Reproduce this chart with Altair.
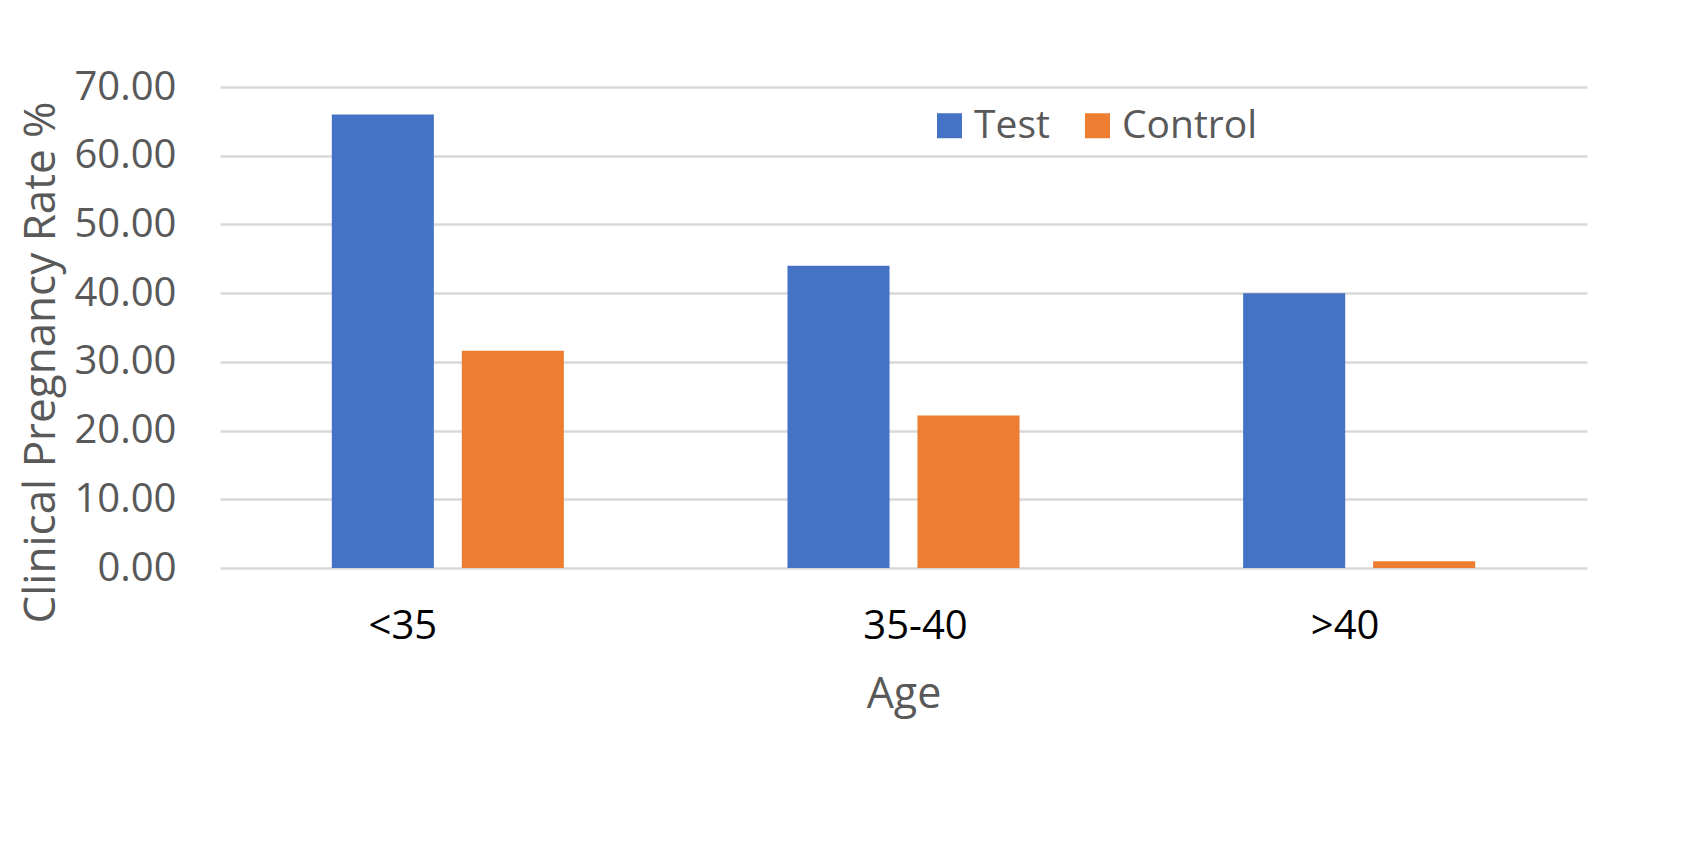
import altair as alt
import pandas as pd

ages = ["<35", "35-40", ">40"]
groups = ["Test", "Control"]
test_rate = [66.0, 44.0, 40.0]
control_rate = [31.6, 22.2, 1.0]
y_ticks = [0, 10, 20, 30, 40, 50, 60, 70]
colors = ["#4472C4", "#ED7D31"]

rows = []
for a, t, c in zip(ages, test_rate, control_rate):
    rows.append({"age": a, "group": "Test", "rate": t})
    rows.append({"age": a, "group": "Control", "rate": c})
df = pd.DataFrame(rows)

FONT = "Open Sans"
GREY = "#595959"

chart = alt.Chart(df).mark_bar().encode(
    x=alt.X(
        "age:N",
        sort=ages,
        scale=alt.Scale(paddingInner=0, paddingOuter=0),
        axis=alt.Axis(
            title="Age",
            labelAngle=0,
            ticks=False,
            domain=False,
            labelColor="black",
            labelFont=FONT,
            labelFontSize=40,
            labelBaseline="alphabetic",
            labelPadding=70,
            labelOffset={
                "condition": [
                    {"test": "datum.value === '<35'", "value": -45},
                    {"test": "datum.value === '35-40'", "value": 12},
                ],
                "value": -14,
            },
            titleFont=FONT,
            titleFontSize=43,
            titleFontWeight="normal",
            titleColor=GREY,
            titleBaseline="alphabetic",
            titleY=139,
        ),
    ),
    xOffset=alt.XOffset(
        "group:N",
        sort=groups,
        scale=alt.Scale(paddingInner=0.215, paddingOuter=0.86),
    ),
    y=alt.Y(
        "rate:Q",
        scale=alt.Scale(domain=[0, 70], nice=False),
        axis=alt.Axis(
            title="Clinical Pregnancy Rate %",
            values=y_ticks,
            format=".2f",
            ticks=False,
            domain=False,
            gridColor="#D9D9D9",
            gridWidth=2.5,
            labelColor=GREY,
            labelFont=FONT,
            labelFontSize=40,
            labelPadding=44,
            titleFont=FONT,
            titleFontSize=44,
            titleFontWeight="normal",
            titleColor=GREY,
            titleBaseline="alphabetic",
            titleX=-166,
            titleY=275,
        ),
    ),
    color=alt.Color(
        "group:N",
        sort=groups,
        scale=alt.Scale(domain=groups, range=colors),
        legend=alt.Legend(
            title=None,
            orient="none",
            direction="horizontal",
            legendX=710,
            legendY=19,
            symbolType="square",
            symbolSize=625,
            symbolStrokeWidth=0,
            symbolOpacity=1,
            labelFont=FONT,
            labelFontSize=39,
            labelColor=GREY,
            labelOffset=5,
            columnPadding=28,
        ),
    ),
).properties(
    width=1367,
    height=481,
    padding={"left": 220, "top": 87, "right": 110, "bottom": 283},
    autosize=alt.AutoSizeParams(type="none"),
).configure(background="white").configure_view(stroke=None)

chart.save("out.html", embed_options={"renderer": "svg", "actions": False})
